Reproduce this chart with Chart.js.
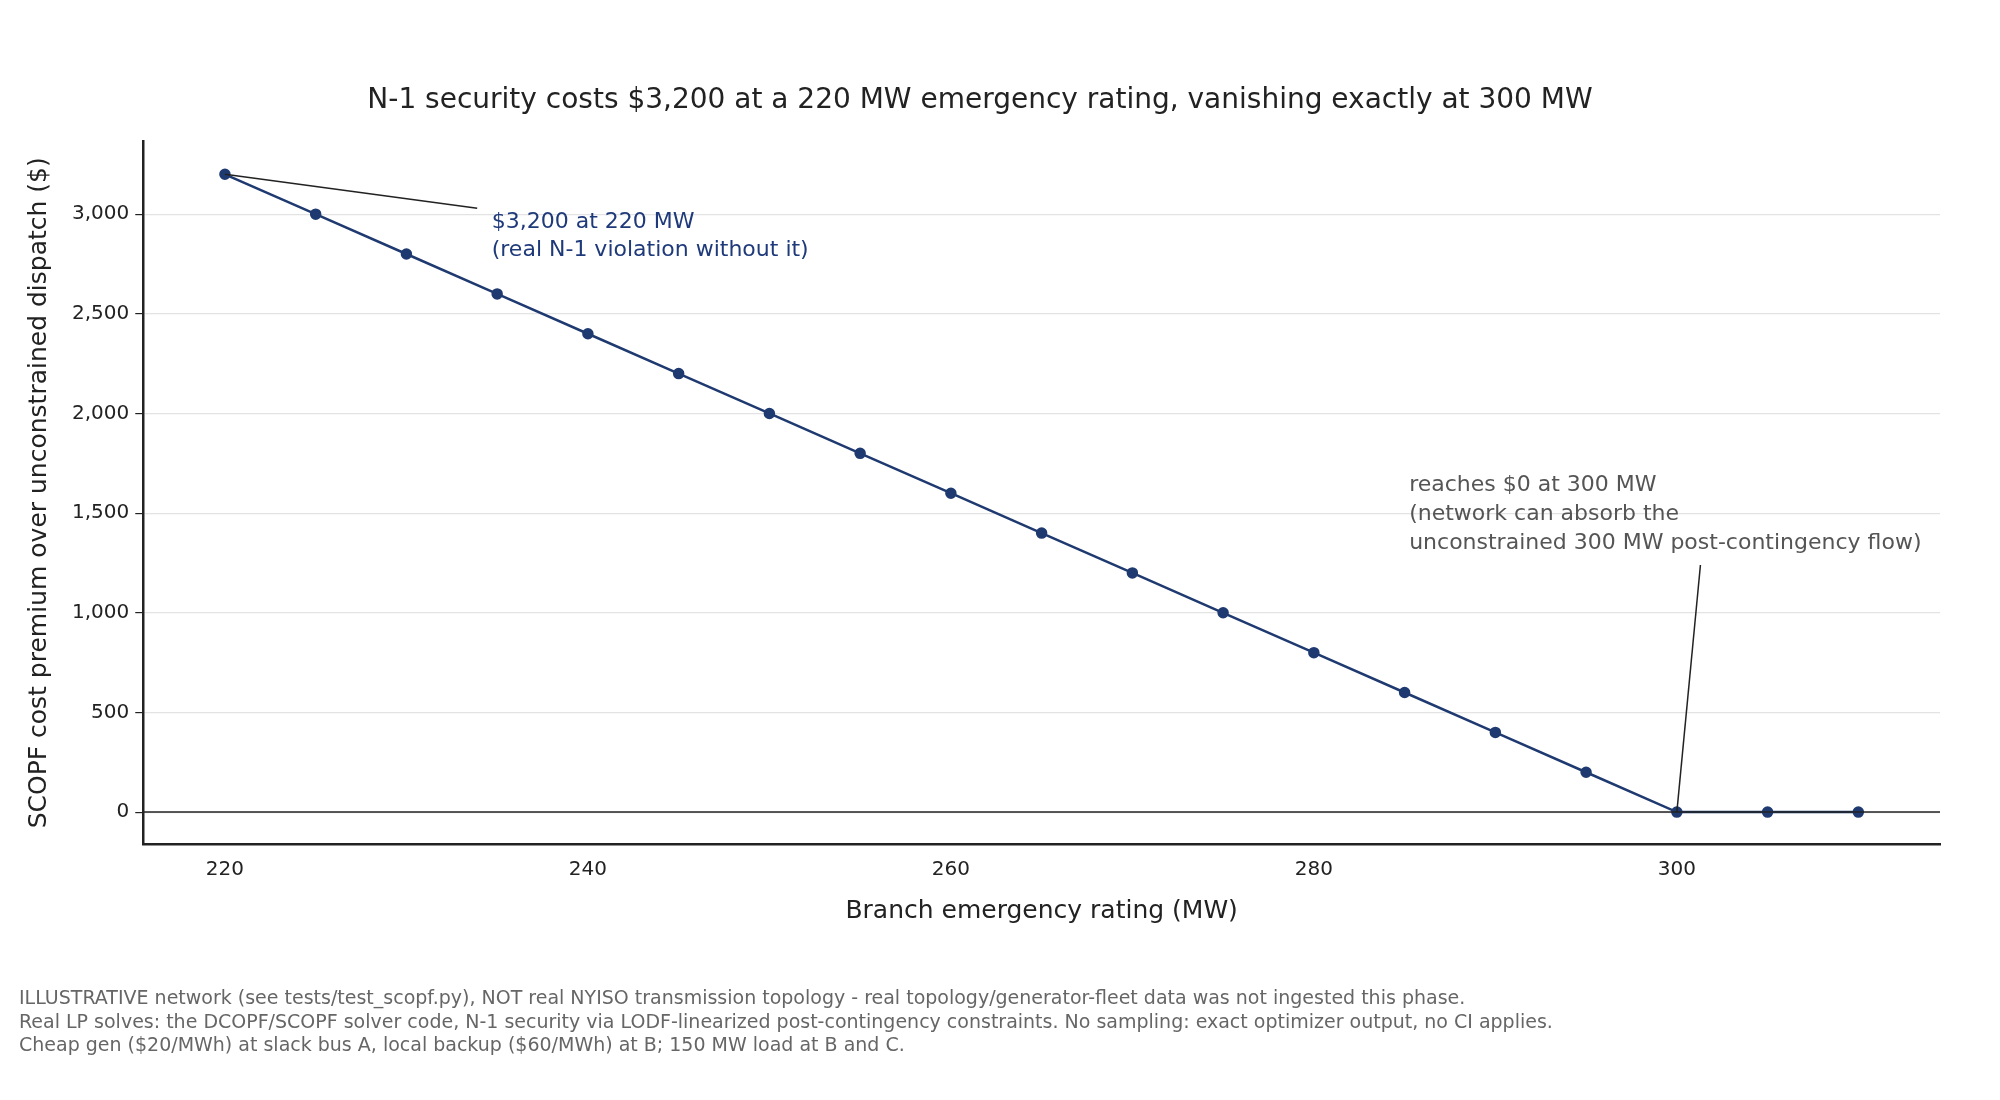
<!DOCTYPE html>
<html><head><meta charset="utf-8">
<script src="https://cdn.jsdelivr.net/npm/chart.js@4.4.0/dist/chart.umd.min.js"></script>
<style>html,body{margin:0;padding:0;background:#fff}#w{position:relative;width:2000px;height:1100px}
#foot{position:absolute;left:19px;top:986px;font:19px "DejaVu Sans";color:#666;line-height:23.5px;white-space:pre}</style>
</head><body><div id="w"><canvas id="c" width="2000" height="1100"></canvas>
<div id="foot">ILLUSTRATIVE network (see tests/test_scopf.py), NOT real NYISO transmission topology - real topology/generator-fleet data was not ingested this phase.
Real LP solves: the DCOPF/SCOPF solver code, N-1 security via LODF-linearized post-contingency constraints. No sampling: exact optimizer output, no CI applies.
Cheap gen ($20/MWh) at slack bus A, local backup ($60/MWh) at B; 150 MW load at B and C.</div></div>
<script>
const ratings=[220,225,230,235,240,245,250,255,260,265,270,275,280,285,290,295,300,305,310];
const premium=[3200,3000,2800,2600,2400,2200,2000,1800,1600,1400,1200,1000,800,600,400,200,0,0,0];
const xTicks=[220,240,260,280,300];
const yTicks=[0,500,1000,1500,2000,2500,3000];
const F='"DejaVu Sans"';
const ann={id:'ann',afterDatasetsDraw(ch){
 const c=ch.ctx,x=ch.scales.x,y=ch.scales.y;
 c.save();
 c.strokeStyle='#222';c.lineWidth=1.5;
 c.beginPath();c.moveTo(x.left,y.getPixelForValue(0));c.lineTo(x.right,y.getPixelForValue(0));c.stroke();
 c.beginPath();c.moveTo(x.getPixelForValue(220),y.getPixelForValue(3200));c.lineTo(x.getPixelForValue(233.9),y.getPixelForValue(3030));c.stroke();
 c.beginPath();c.moveTo(x.getPixelForValue(300),y.getPixelForValue(0));c.lineTo(x.getPixelForValue(301.3),y.getPixelForValue(1240));c.stroke();
 c.font='22px '+F;c.textBaseline='middle';
 c.fillStyle='#1f3a7a';
 let tx=x.getPixelForValue(234.7),ty=y.getPixelForValue(2960);
 c.fillText('$3,200 at 220 MW',tx,ty);c.fillText('(real N-1 violation without it)',tx,ty+28);
 c.fillStyle='#555';
 tx=x.getPixelForValue(285.25);ty=y.getPixelForValue(1640);
 ['reaches $0 at 300 MW','(network can absorb the','unconstrained 300 MW post-contingency flow)'].forEach((s,i)=>c.fillText(s,tx,ty+i*29));
 c.restore();}};
new Chart(document.getElementById('c'),{type:'line',
 data:{labels:ratings,datasets:[{data:ratings.map((r,i)=>({x:r,y:premium[i]})),borderColor:'#1f3a70',backgroundColor:'#1f3a70',borderWidth:2.5,pointRadius:4.5,pointHoverRadius:4.5,tension:0}]},
 options:{responsive:false,animation:false,
  layout:{padding:{left:20,right:60,top:20,bottom:170}},
  plugins:{legend:{display:false},tooltip:{enabled:false},
   title:{display:true,text:'N-1 security costs $3,200 at a 220 MW emergency rating, vanishing exactly at 300 MW',font:{family:F,size:28,weight:'normal'},color:'#222',padding:{top:64,bottom:24}}},
  scales:{
   x:{type:'linear',min:215.5,max:314.5,afterBuildTicks:a=>{a.ticks=xTicks.map(v=>({value:v}))},
    grid:{display:false,drawTicks:true,tickLength:8,tickColor:'#222'},border:{color:'#222',width:2.5},
    ticks:{font:{family:F,size:20},color:'#222',padding:6},
    title:{display:true,text:'Branch emergency rating (MW)',font:{family:F,size:25},color:'#222',padding:{top:8}}},
   y:{min:-160,max:3364,afterBuildTicks:a=>{a.ticks=yTicks.map(v=>({value:v}))},
    grid:{color:'#e3e3e3',lineWidth:1.2,tickLength:8,tickColor:'#222'},border:{color:'#222',width:2.5},
    ticks:{font:{family:F,size:20},color:'#222',padding:6},
    title:{display:true,text:'SCOPF cost premium over unconstrained dispatch ($)',font:{family:F,size:25},color:'#222',padding:{bottom:12}}}}},
 plugins:[ann]});
</script></body></html>
